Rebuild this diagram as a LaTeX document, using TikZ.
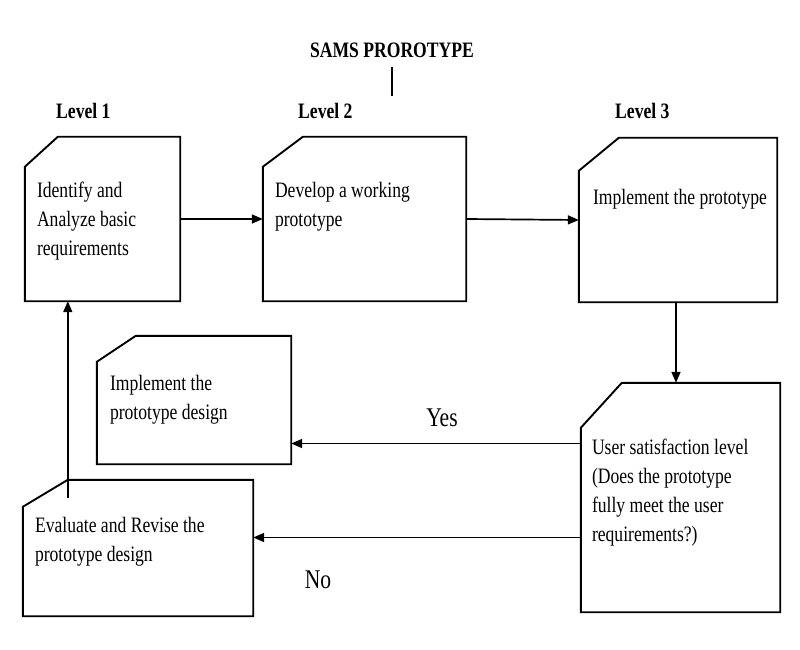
\documentclass[tikz,border=0pt]{standalone}
\usepackage{fontspec}
\setmainfont{Liberation Serif}[FakeStretch=0.8]
\usepackage{tikz}
\usetikzlibrary{positioning, arrows.meta}
\tikzstyle{arrow}    = [line width=1.7pt,-{Triangle[length=11pt,width=9pt]}]
\tikzstyle{outline}  = [line width=1.9pt, line join=miter]

\begin{document}
\begin{tikzpicture}[
    x=1pt, y=-1pt,
    box/.style={inner sep=0pt, minimum width=#1},
    boxtext/.style={anchor=north west, inner sep=0pt, align=left,
      font=\fontsize{22}{29}\selectfont, execute at begin node=\strut},
    lvl/.style={anchor=base west, inner sep=0pt, font=\fontsize{22}{26}\selectfont\bfseries},
    answer/.style={anchor=base, inner sep=0pt, font=\fontsize{27}{30}\selectfont},
  ]
  \useasboundingbox (0,0) rectangle (800,650);

  % title and levels
  \node[anchor=base, inner sep=0pt, font=\fontsize{22}{26}\selectfont\bfseries] (title) at (392,58) {SAMS PROROTYPE};
  \coordinate (tick) at (392,96);
  \draw[line width=1.4pt] ([yshift=-9pt]title.south) -- (tick);
  \node[lvl] (lvl1) at (56,119) {Level 1};
  \node[lvl] (lvl2) at (298,119) {Level 2};
  \node[lvl] (lvl3) at (615,118) {Level 3};

  % boxes
  \node[box=155pt, minimum height=164pt] (b1) at (102.5,219) {};
  \node[box=203pt, minimum height=164pt] (b2) at (364.5,219) {};
  \node[box=198pt, minimum height=164pt] (b3) at (678,220) {};
  \node[box=194pt, minimum height=128pt] (b4) at (194,400) {};
  \node[box=230pt, minimum height=136pt] (b5) at (138,548) {};
  \node[box=199pt, minimum height=229pt] (b6) at (680.5,497.5) {};
  \foreach \n/\cx/\cy in {b1/33/30, b2/40/30, b3/40/33, b4/39/26, b5/45/27, b6/41/45}{
    \draw[outline] ([yshift=-\cy pt]\n.north west) -- ([xshift=\cx pt]\n.north west)
      -- (\n.north east) -- (\n.south east) -- (\n.south west) -- cycle;
  }

  % texts
  \node[boxtext, below right=45pt and 12pt of b1.north west] (t1) {Identify and\\Analyze basic\\requirements};
  \node[boxtext, below right=45pt and 12pt of b2.north west] (t2) {Develop a working\\prototype};
  \node[boxtext, below right=46pt and 14pt of b3.north west] (t3) {Implement the prototype};
  \node[boxtext, below right=39pt and 13pt of b4.north west] (t4) {Implement the\\prototype design};
  \node[boxtext, below right=37pt and 12pt of b5.north west] (t5) {Evaluate and Revise the\\prototype design};
  \node[boxtext, below right=56pt and 11pt of b6.north west] (t6) {User satisfaction level\\(Does the prototype\\fully meet the user\\requirements?)};

  % connectors
  \draw[arrow] (b1.east) -- (b2.west);
  \draw[arrow] (b2.east) -- (b3.west);
  \draw[arrow] ([xshift=-2pt]b3.south) -- ([xshift=-2pt]b3.south |- b6.north);
  \draw[arrow] ([yshift=54pt]b6.west) -- ([yshift=54pt]b6.west -| b4.east);
  \draw[arrow] ([yshift=-40pt]b6.west) -- ([yshift=-40pt]b6.west -| b5.east);
  \draw[arrow] ([xshift=45pt,yshift=-18pt]b5.north west) -- ([xshift=45pt]b5.north west |- b1.south);
  \node[answer] (yes) at (442,426) {Yes};
  \node[answer] (no) at (318,588) {No};
\end{tikzpicture}
\end{document}
